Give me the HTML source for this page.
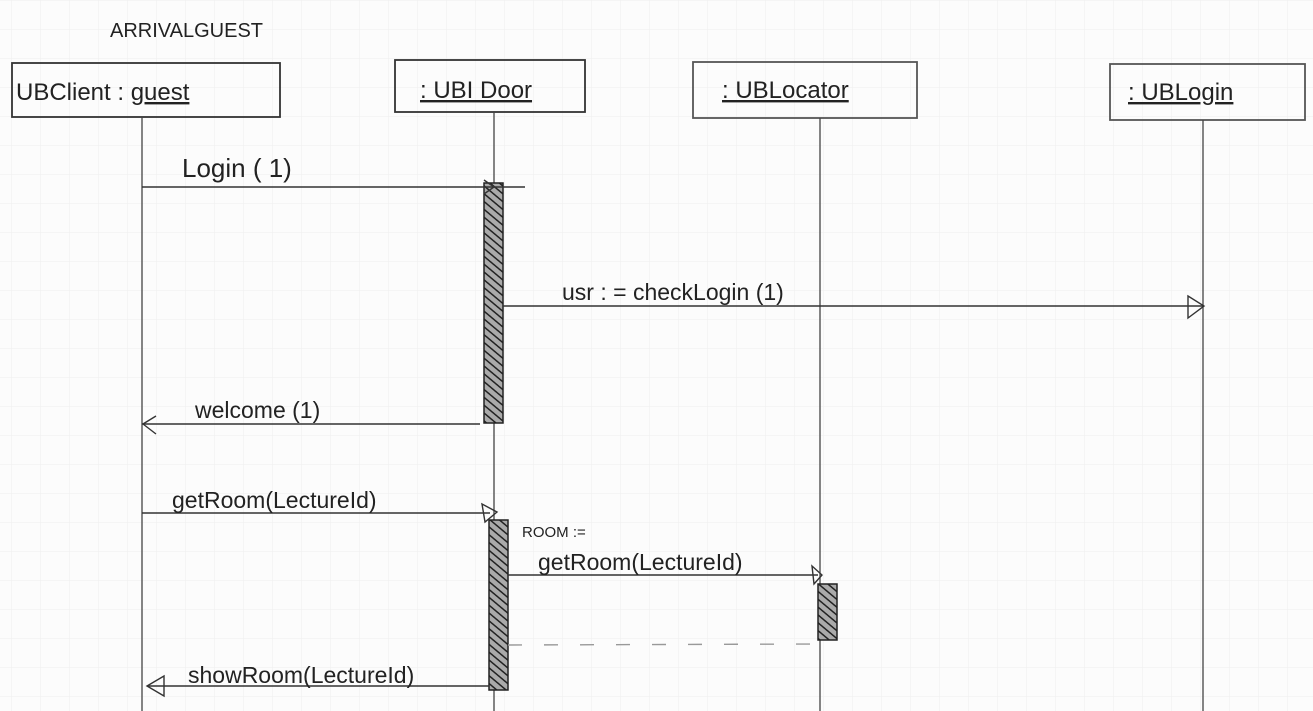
<!DOCTYPE html>
<html><head><meta charset="utf-8"><style>
html,body{margin:0;padding:0;background:#fcfcfc;}
svg{display:block}
text{font-family:"Liberation Sans",sans-serif;fill:#222;}
</style></head><body>
<svg width="1313" height="711" viewBox="0 0 1313 711" xmlns="http://www.w3.org/2000/svg">
<defs>
<pattern id="g" width="29" height="29" patternUnits="userSpaceOnUse" x="11" y="0">
<path d="M0 0V29M0 0H29" stroke="#eeeeee" stroke-width="1" fill="none"/>
</pattern>
<pattern id="h" width="6" height="6" patternUnits="userSpaceOnUse" patternTransform="rotate(-50)">
<rect width="6" height="6" fill="#aaa"/>
<path d="M0 0V6" stroke="#222" stroke-width="3"/>
</pattern>
</defs>
<rect width="1313" height="711" fill="#fcfcfc"/>
<rect width="1313" height="711" fill="url(#g)"/>
<text x="110" y="37" font-size="20">ARRIVALGUEST</text>
<g fill="none" stroke="#333" stroke-width="1.8">
<rect x="12" y="63" width="268" height="54"/>
<rect x="395" y="60" width="190" height="52"/>
<rect x="693" y="62" width="224" height="56" stroke="#555"/>
<rect x="1110" y="64" width="195" height="56" stroke="#555"/>
</g>
<g stroke="#444" stroke-width="1.3">
<line x1="142" y1="117" x2="142" y2="711"/>
<line x1="494" y1="112" x2="494" y2="711"/>
<line x1="820" y1="118" x2="820" y2="711"/>
<line x1="1203" y1="120" x2="1203" y2="711"/>
</g>
<text x="16" y="100" font-size="24">UBClient : <tspan text-decoration="underline">guest</tspan></text>
<text x="420" y="98" font-size="24" text-decoration="underline">: UBI Door</text>
<text x="722" y="98" font-size="24" text-decoration="underline">: UBLocator</text>
<text x="1128" y="100" font-size="24" text-decoration="underline">: UBLogin</text>
<g stroke="#222" stroke-width="1.5">
<rect x="484" y="183" width="19" height="240" fill="url(#h)"/>
<rect x="489" y="520" width="19" height="170" fill="url(#h)"/>
<rect x="818" y="584" width="19" height="56" fill="url(#h)"/>
</g>
<g stroke="#333" stroke-width="1.4" fill="none">
<line x1="142" y1="187" x2="525" y2="187"/>
<path d="M484 180 L494 187 L484 194"/>
<line x1="503" y1="306" x2="1203" y2="306"/>
<path d="M1188 296 L1204 306 L1188 318Z"/>
<line x1="480" y1="424" x2="142" y2="424"/>
<path d="M156 416 L143 424 L156 434"/>
<line x1="142" y1="513" x2="490" y2="513"/>
<path d="M482 504 L497 512 L485 522Z"/>
<line x1="508" y1="575" x2="818" y2="575"/>
<path d="M812 566 L822 575 L814 584Z"/>
<line x1="508" y1="645" x2="818" y2="644" stroke-dasharray="14 22" stroke="#999"/>
<line x1="489" y1="686" x2="147" y2="686"/>
<path d="M164 676 L147 686 L164 696Z"/>
</g>
<text x="182" y="177" font-size="26">Login ( 1)</text>
<text x="562" y="300" font-size="23">usr : = checkLogin  (1)</text>
<text x="195" y="418" font-size="23">welcome (1)</text>
<text x="172" y="508" font-size="23">getRoom(LectureId)</text>
<text x="522" y="537" font-size="15">ROOM :=</text>
<text x="538" y="570" font-size="23">getRoom(LectureId)</text>
<text x="188" y="683" font-size="23">showRoom(LectureId)</text>
</svg>
</body></html>
